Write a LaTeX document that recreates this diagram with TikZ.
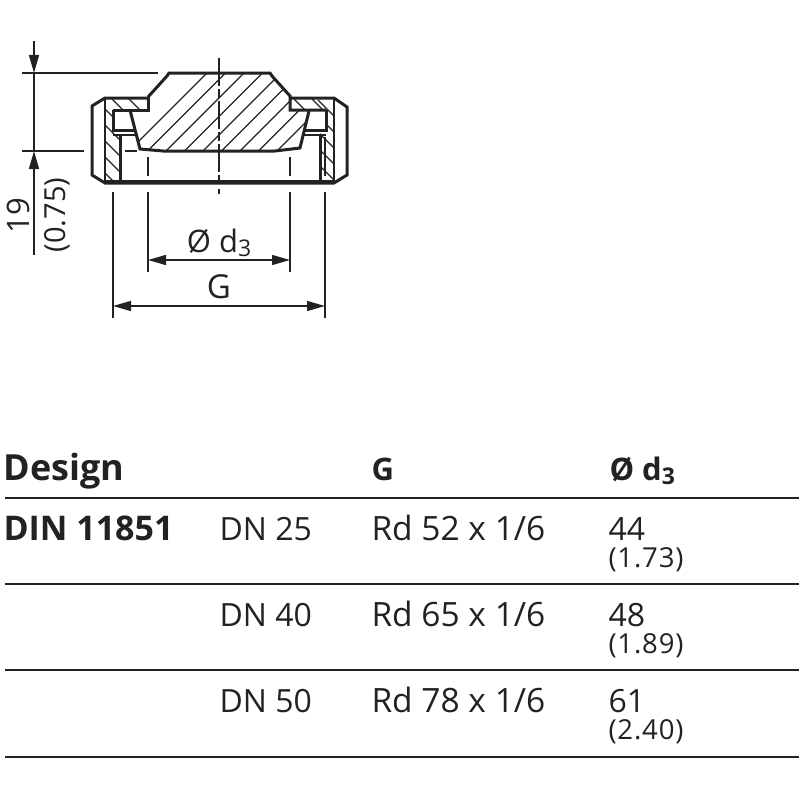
\documentclass[tikz,border=0pt]{standalone}
\usepackage{fontspec}
\setmainfont{Open Sans}
\usetikzlibrary{positioning,arrows.meta}
\definecolor{inkdark}{HTML}{222222}
\begin{document}
\begin{tikzpicture} [
	x=1pt,y=-1pt,
	outline/.style={
		line width=3pt,line join=miter,inkdark},
	thin line/.style={
		line width=1.4pt,inkdark},
	hatch/.style={
		line width=1.2pt,inkdark},
	tipped/.style={
		line width=1.4pt,inkdark,-{Triangle[length=18pt,width=10pt]}},
	dim/.style={
		line width=1.4pt,inkdark,{Triangle[length=18pt,width=10pt]}-{Triangle[length=18pt,width=10pt]}},
	rule/.style={
		line width=2pt,inkdark},
	head/.style={
		anchor=base west,text=inkdark,font=\fontsize{34}{34}\selectfont\bfseries},
	cell/.style={
		anchor=base west,text=inkdark,font=\fontsize{32}{32}\selectfont},
	small/.style={
		anchor=base west,text=inkdark,font=\fontsize{27.5}{27}\selectfont\addfontfeatures{LetterSpace=3}}]
\useasboundingbox (0,0) rectangle (800,800);
% hatching of the plug
\begin{scope}
\clip (169,73) -- (270,73) -- (291,96) -- (291,110) -- (309,110) -- (300,148) -- (275,151) -- (163,151) -- (140,149) -- (130,110) -- (148,110) -- (148,97) -- cycle;
\foreach \i in {0,...,13}
	\draw[hatch] (115+\i*18.5,165) -- ++(100,-100);
\end{scope}
% hatching of the ring
\begin{scope}
\clip (105,98) -- (147,98) -- (147,110) -- (113,110) -- (113,132) -- (119,132) -- (119,181) -- (105,181) -- cycle;
\foreach \i in {0,...,5}
	\draw[hatch] (100,\i*16+104) -- ++(22,22);
\draw[hatch] (112,99) -- ++(11,11);
\draw[hatch] (129,99) -- ++(11,11);
\end{scope}
\begin{scope}
\clip (291,98) -- (334,98) -- (334,181) -- (320,181) -- (320,132) -- (326,132) -- (326,110) -- (291,110) -- cycle;
\foreach \i in {0,...,5}
	\draw[hatch] (318,\i*16+100) -- ++(18,18);
\draw[hatch] (294,99) -- ++(11,11);
\draw[hatch] (312,99) -- ++(11,11);
\end{scope}
% plug outline
\draw[outline] (148,97) -- (167,76) -- (169,73) -- (270,73) -- (272,76) -- (290,96) -- (290,110) -- (326,110);
\draw[outline] (148,97) -- (148,110) -- (113,110);
\draw[outline] (130,110) -- (140,149) -- (163,151) -- (275,151) -- (300,148) -- (309,111);
% ring outline
\draw[outline] (148,98) -- (105,98) -- (92,106) -- (92,175) -- (105,183) -- (334,183) -- (347,175) -- (347,107) -- (334,98) -- (290,98);
\draw[outline] (105,181) -- (334,181);
\draw[outline] (113,110) -- (113,130) -- (135,130);
\draw[outline] (326,110) -- (326,130) -- (304,130);
\draw[outline] (120,134) -- (120,181);
\draw[outline] (320,134) -- (320,181);
\draw[thin line] (105,98) -- (105,183);
\draw[thin line] (334,98) -- (334,183);
\draw[thin line] (113,135) -- (136,135);
\draw[thin line] (303,135) -- (326,135);
% centre lines
\draw[thin line,dash pattern=on 28pt off 3pt on 9pt off 3pt] (219,58) -- (219,183);
\draw[thin line] (219,189) -- (219,194);
\draw[thin line] (148,157) -- (148,176);
\draw[thin line] (290,157) -- (290,176);
\draw[thin line] (325,137) -- (325,176);
\draw[thin line] (125,151) -- (137,151);
% dimensions
\coordinate (top1) at (22,73);
\coordinate (top2) at (158,73);
\coordinate (low1) at (22,151);
\coordinate (low2) at (84,151);
\draw[thin line] (top1) -- (top2);
\draw[thin line] (low1) -- (low2);
\coordinate (arr1) at (34,41);
\coordinate (arr2) at (34,73);
\coordinate (arr3) at (34,151);
\coordinate (arr4) at (34,255);
\draw[tipped] (arr1) -- (arr2);
\draw[thin line] (arr2) -- (arr3);
\draw[tipped] (arr4) -- (arr3);
\node[rotate=90,text=inkdark,font=\fontsize{31}{31}\selectfont] (height) at (18,216) {19};
\node[rotate=90,text=inkdark,font=\fontsize{29}{29}\selectfont] (heightin) at (57,215) {(0.75)};
\coordinate (d1) at (148,192);
\coordinate (d2) at (148,272);
\coordinate (d3) at (290,192);
\coordinate (d4) at (290,272);
\coordinate (g1) at (113,192);
\coordinate (g2) at (113,318);
\coordinate (g3) at (325,192);
\coordinate (g4) at (325,318);
\draw[thin line] (d1) -- (d2);
\draw[thin line] (d3) -- (d4);
\draw[thin line] (g1) -- (g2);
\draw[thin line] (g3) -- (g4);
\coordinate (da) at (148,260);
\coordinate (db) at (290,260);
\coordinate (ga) at (113,306);
\coordinate (gb) at (325,306);
\draw[dim] (da) -- (db);
\draw[dim] (ga) -- (gb);
\node[cell,anchor=base,font=\fontsize{31}{31}\selectfont] (dlabel) at (219,252) {Ø d\raisebox{-4pt}{\fontsize{23}{23}\selectfont 3}};
\node[cell,anchor=base,font=\fontsize{33}{33}\selectfont] (glabel) at (219,298) {G};
% table
\node[head,font=\fontsize{36}{36}\selectfont\bfseries] (design) at (0,480) {Design};
\node[head,font=\fontsize{31}{31}\selectfont\bfseries] (ghead) at (368,480) {G};
\node[head,font=\fontsize{31}{31}\selectfont\bfseries] (dhead) at (606,480) {Ø d\raisebox{-4pt}{\fontsize{23}{23}\selectfont 3}};
\node[head] (din) at (0,540) {DIN 11851};
\foreach \y/\dn/\rd/\val/\inch in {540/25/52/44/1.73,626/40/65/48/1.89,712/50/78/61/2.40} {
	\node[cell] (dn\dn) at (216,\y) {DN \dn};
	\node[cell,font=\fontsize{33.5}{33}\selectfont] (rd\dn) at (368,\y) {Rd \rd\ x 1/6};
	\node[cell] (val\dn) at (605,\y) {\val};
	\node[small] (inch\dn) at (605,\y+27) {(\inch)};
}
\coordinate (r0a) at (5,498);
\coordinate (r0b) at (799,498);
\coordinate (r1a) at (5,584);
\coordinate (r1b) at (799,584);
\coordinate (r2a) at (5,670);
\coordinate (r2b) at (799,670);
\coordinate (r3a) at (5,757);
\coordinate (r3b) at (799,757);
\draw[rule] (r0a) -- (r0b);
\draw[rule] (r1a) -- (r1b);
\draw[rule] (r2a) -- (r2b);
\draw[rule] (r3a) -- (r3b);
\end{tikzpicture}
\end{document}
